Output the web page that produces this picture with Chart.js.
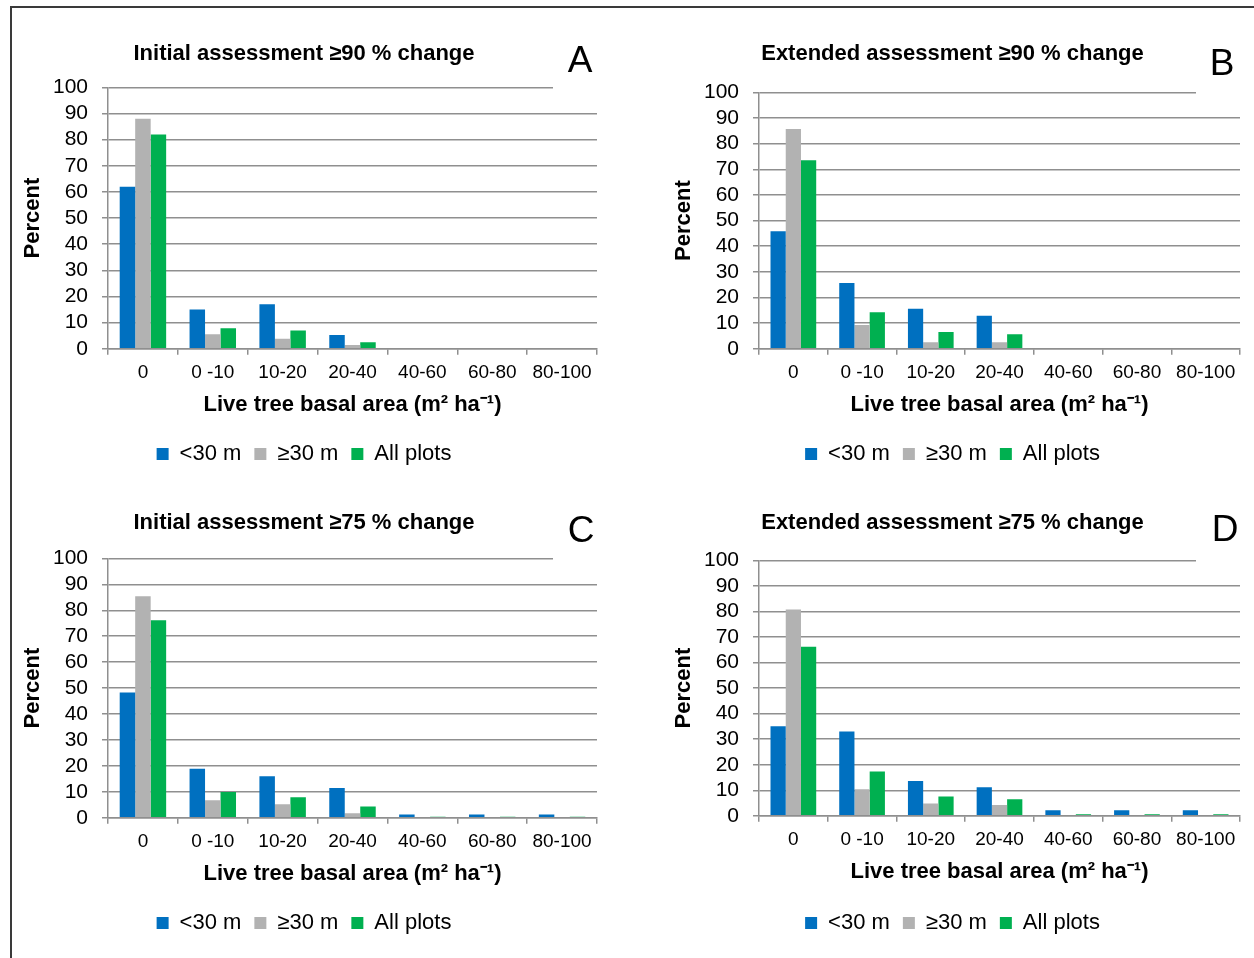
<!DOCTYPE html>
<html lang="en">
<head>
<meta charset="UTF-8">
<title>Live tree basal area</title>
<script src="https://cdn.jsdelivr.net/npm/chart.js"></script>
<style>
    html, body { margin: 0; padding: 0; background: #fff; overflow: hidden; }
    body { width: 1254px; height: 958px; position: relative; }
    .frame { position: absolute; left: 10px; top: 6px; width: 1300px; height: 1000px; border: 2px solid #3a3a3a; }
    .panel { position: absolute; }
</style>
</head>
<body>
<div class="frame"></div>
<div class="panel" style="left:0px;top:0px;width:608px;height:479px"><canvas id="chartA"></canvas></div>
<div class="panel" style="left:627px;top:0px;width:654px;height:479px"><canvas id="chartB"></canvas></div>
<div class="panel" style="left:0px;top:479px;width:608px;height:479px"><canvas id="chartC"></canvas></div>
<div class="panel" style="left:627px;top:479px;width:654px;height:479px"><canvas id="chartD"></canvas></div>

<script>
    // basal area classes
    var categories = ['0', '0 -10', '10-20', '20-40', '40-60', '60-80', '80-100'];
    var seriesNames = ['<30 m', '\u226530 m', 'All plots'];

    // A: initial assessment >=90 % change
    var initial90_near = [62, 15, 17, 5.3, 0, 0, 0];
    var initial90_far = [88, 5.6, 3.8, 1.5, 0, 0, 0];
    var initial90_all = [82, 7.9, 7, 2.5, 0, 0, 0];

    // B: extended assessment >=90 % change
    var extended90_near = [45.8, 25.7, 15.6, 12.9, 0, 0, 0];
    var extended90_far = [85.7, 9.3, 2.6, 2.6, 0, 0, 0];
    var extended90_all = [73.5, 14.3, 6.6, 5.7, 0, 0, 0];

    // C: initial assessment >=75 % change
    var initial75_near = [48.3, 18.9, 16, 11.5, 1.3, 1.3, 1.3];
    var initial75_far = [85.4, 6.8, 5.2, 1.8, 0, 0, 0];
    var initial75_all = [76.2, 9.9, 7.9, 4.4, 0.4, 0.4, 0.4];

    // D: extended assessment >=75 % change
    var extended75_near = [35.1, 33, 13.6, 11.2, 2.2, 2.2, 2.2];
    var extended75_far = [80.8, 10.4, 4.8, 4.2, 0, 0, 0];
    var extended75_all = [66.2, 17.3, 7.6, 6.5, 0.6, 0.6, 0.6];

    var colores = ['#0070C0', '#B2B2B2', '#00B050'];
    var gridCor = '#8f8f8f';
    var fonte = "'Liberation Sans', Arial, sans-serif";

    // letter in the corner, it sits on a white box that cuts the top gridline
    var letraPlugin = {
        id: 'letra',
        afterDraw: function (chart) {
            var o = chart.options.plugins.letra;
            var ca = chart.chartArea;
            var ctx = chart.ctx;
            ctx.save();
            ctx.fillStyle = '#fff';
            ctx.fillRect(ca.right - o.gap, ca.top - 3, o.gap + 4, 6);
            ctx.fillStyle = '#000';
            ctx.font = '37px ' + fonte;
            ctx.textAlign = 'center';
            ctx.textBaseline = 'middle';
            ctx.fillText(o.text, ca.right - o.dx, ca.top + o.dy);
            ctx.restore();
        }
    };

    function painel(id, titulo, letra, near, far, all, g) {
        var ctx = document.getElementById(id).getContext('2d');
        return new Chart(ctx, {
            type: 'bar',
            data: {
                labels: categories,
                datasets: [
                    { label: seriesNames[0], data: near, backgroundColor: colores[0] },
                    { label: seriesNames[1], data: far, backgroundColor: colores[1] },
                    { label: seriesNames[2], data: all, backgroundColor: colores[2] }
                ]
            },
            options: {
                responsive: true,
                maintainAspectRatio: false,
                animation: false,
                datasets: { bar: { categoryPercentage: 0.665, barPercentage: 1 } },
                layout: { padding: { left: g.left, right: g.right, top: 0, bottom: g.bottom } },
                plugins: {
                    tooltip: { enabled: false },
                    title: {
                        display: true,
                        text: titulo,
                        color: '#000',
                        font: { family: fonte, size: 22, weight: 'bold' },
                        padding: { top: g.titleTop, bottom: g.titleBottom }
                    },
                    legend: {
                        position: 'bottom',
                        labels: {
                            color: '#000',
                            boxWidth: 12,
                            boxHeight: 12,
                            padding: 13,
                            font: { family: fonte, size: 22 }
                        }
                    },
                    letra: { text: letra, gap: 44, dx: g.letterDx, dy: g.letterDy }
                },
                scales: {
                    x: {
                        grid: { display: true, offset: true, drawOnChartArea: false, color: gridCor, lineWidth: 1.5, tickLength: 6 },
                        border: { color: gridCor, width: 1.5 },
                        ticks: { color: '#000', padding: 7, maxRotation: 0, font: { family: fonte, size: 19 } },
                        title: {
                            display: true,
                            text: 'Live tree basal area (m\u00b2 ha\u207b\u00b9)',
                            color: '#000',
                            font: { family: fonte, size: 22, weight: 'bold' },
                            padding: { top: 0, bottom: g.xTitleBottom }
                        }
                    },
                    y: {
                        min: 0,
                        max: 100,
                        ticks: { stepSize: 10, autoSkip: false, color: '#000', padding: 14, font: { family: fonte, size: 21 } },
                        grid: { color: gridCor, lineWidth: 1.5, tickLength: 6 },
                        border: { color: gridCor, width: 1.5 },
                        title: {
                            display: true,
                            text: 'Percent',
                            color: '#000',
                            font: { family: fonte, size: 22, weight: 'bold' },
                            padding: { top: g.yTitlePad, bottom: 0 }
                        },
                        afterFit: function (s) { s.width = g.yWidth; }
                    }
                }
            },
            plugins: [letraPlugin]
        });
    }

    painel('chartA', 'Initial assessment \u226590 % change', 'A',
        initial90_near, initial90_far, initial90_all,
        { left: 11, right: 11, bottom: 4, titleTop: 41, titleBottom: 20, xTitleBottom: 12, yWidth: 97, yTitlePad: 9, letterDx: 17, letterDy: -26 });
    painel('chartB', 'Extended assessment \u226590 % change', 'B',
        extended90_near, extended90_far, extended90_all,
        { left: 38, right: 41, bottom: 4, titleTop: 41, titleBottom: 25, xTitleBottom: 12, yWidth: 94, yTitlePad: 6, letterDx: 18, letterDy: -28 });
    painel('chartC', 'Initial assessment \u226575 % change', 'C',
        initial75_near, initial75_far, initial75_all,
        { left: 11, right: 11, bottom: 14, titleTop: 31, titleBottom: 22, xTitleBottom: 12, yWidth: 97, yTitlePad: 9, letterDx: 16, letterDy: -27 });
    painel('chartD', 'Extended assessment \u226575 % change', 'D',
        extended75_near, extended75_far, extended75_all,
        { left: 38, right: 41, bottom: 14, titleTop: 31, titleBottom: 24, xTitleBottom: 14, yWidth: 94, yTitlePad: 6, letterDx: 15, letterDy: -30 });
</script>
</body>
</html>
